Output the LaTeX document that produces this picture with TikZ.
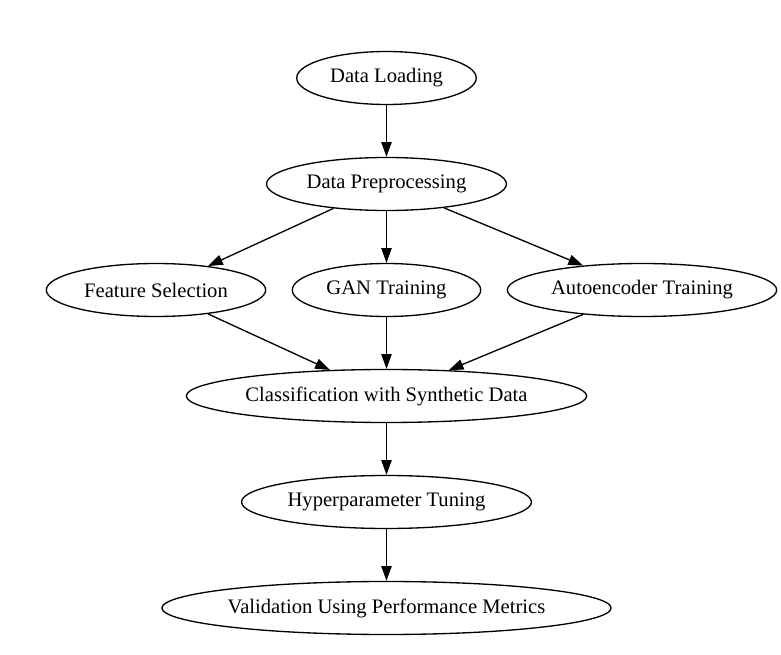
\documentclass[tikz,border=0pt]{standalone}
\usepackage{fontspec}
\setmainfont{Liberation Serif}
\usetikzlibrary{shapes.geometric, arrows.meta}

\begin{document}
\begin{tikzpicture}[x=0.6794pt, y=-0.6794pt,
	stage/.style={draw, ellipse, line width=0.9pt, inner sep=0pt, minimum height=36pt, font=\fontsize{14}{16}\selectfont},
	flow/.style={line width=0.9pt, -{Triangle[length=10pt, width=7pt]}}]
	%page
	\useasboundingbox (0,0) rectangle (781,655);

	%stages
	\node (load) at (386.5, 78) [stage, minimum width=122pt]{Data Loading};
	\node (prep) at (386.5, 184) [stage, minimum width=163pt]{Data Preprocessing};
	\node (feat) at (156, 290) [stage, minimum width=149pt]{Feature Selection};
	\node (gan) at (386.5, 290) [stage, minimum width=128pt]{GAN Training};
	\node (auto) at (642, 290) [stage, minimum width=183pt]{Autoencoder Training};
	\node (class) at (386.5, 396) [stage, minimum width=272pt]{Classification with Synthetic Data};
	\node (tune) at (386.5, 502) [stage, minimum width=197pt]{Hyperparameter Tuning};
	\node (valid) at (386.5, 608) [stage, minimum width=304pt]{Validation Using Performance Metrics};

	%flow
	\foreach \a/\b in {load/prep, prep/feat, prep/gan, prep/auto, feat/class, gan/class, auto/class, class/tune, tune/valid}{
		\draw[flow] (\a)--(\b);
	}
\end{tikzpicture}
\end{document}
